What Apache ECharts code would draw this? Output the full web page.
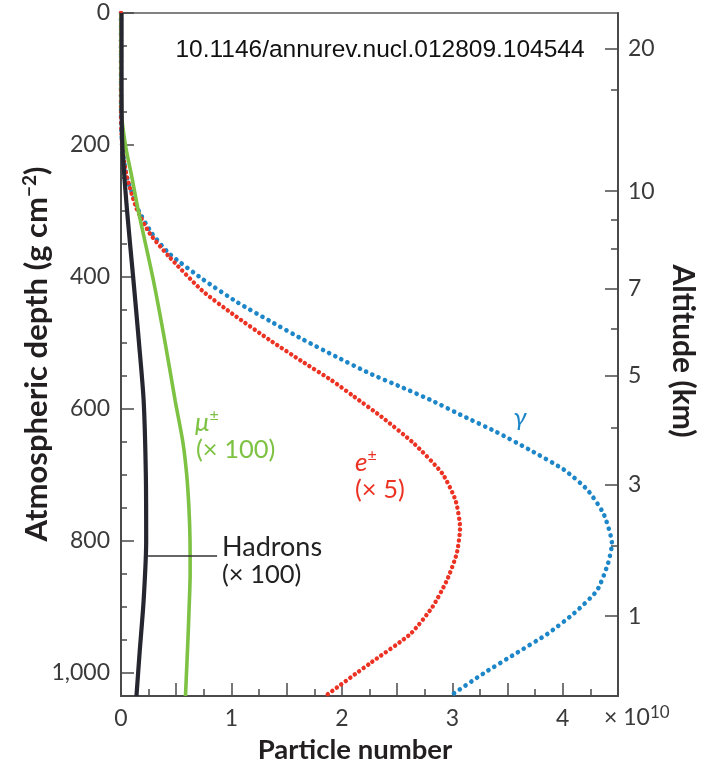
<!DOCTYPE html>
<html>
<head>
<meta charset="utf-8">
<script src="https://cdn.jsdelivr.net/npm/echarts@6/dist/echarts.min.js"></script>
<style>
html, body { margin: 0; padding: 0; background: #fff; }
#chart { width: 710px; height: 765px; }
</style>
</head>
<body>
<div id="chart"></div>
<script>
var myChart = echarts.init(document.getElementById('chart'));

// atmospheric depth (g cm^-2) vs particle number (x 1e10)
var gammaDepth = [0, 150, 200, 246, 296, 334, 365, 404, 438, 467, 495, 521, 546, 567, 587, 611, 635, 662, 692, 722, 759, 804, 834, 875, 910, 941, 971, 1001, 1035];
var gammaNum   = [0, 0, 0.01, 0.05, 0.15, 0.28, 0.44, 0.745, 1.05, 1.35, 1.65, 1.95, 2.25, 2.54, 2.81, 3.10, 3.40, 3.70, 4.01, 4.22, 4.37, 4.445, 4.41, 4.31, 4.10, 3.86, 3.57, 3.28, 2.98];

var elecDepth = [0, 150, 200, 246, 296, 334, 370, 420, 456, 496, 527, 557, 580, 612, 652, 698, 739, 780, 819, 860, 900, 941, 986, 1035];
var elecNum   = [0, 0, 0.01, 0.05, 0.14, 0.26, 0.44, 0.73, 1.01, 1.35, 1.63, 1.91, 2.10, 2.36, 2.65, 2.91, 3.03, 3.07, 3.04, 2.95, 2.82, 2.62, 2.25, 1.85];

var muonDepth = [0, 150, 200, 250, 300, 400, 500, 587, 650, 700, 750, 800, 850, 900, 950, 1000, 1035];
var muonNum   = [0, 0.005, 0.04, 0.10, 0.157, 0.287, 0.40, 0.49, 0.56, 0.595, 0.615, 0.625, 0.626, 0.617, 0.606, 0.593, 0.584];

var hadronDepth = [0, 100, 200, 300, 400, 500, 587, 700, 800, 890, 966, 1035];
var hadronNum   = [0.005, 0.005, 0.012, 0.055, 0.11, 0.163, 0.205, 0.225, 0.228, 0.205, 0.17, 0.14];

// right axis: altitude (km) and the depth where each tick sits
var altLabels = [20, 10, 7, 5, 3, 1];
var altDepth = [54, 270, 418, 549, 715, 914];
var altMinorDepth = [117, 314, 358, 478, 629, 808];

var depthMax = 1035;
var numMax = 4.5;

function pairs(xs, ys) {
    return xs.map(function (v, i) { return [v, ys[i]]; });
}

var axisColor = '#4a4a4a';
var labelColor = '#3a3a3a';
var titleColor = '#231f20';
var font = 'Lato';

option = {
    animation: false,
    textStyle: { fontFamily: font },
    grid: {
        left: 121, right: 92, top: 13, bottom: 69,
        show: true, borderColor: '#5a5a5a', borderWidth: 1.5
    },
    xAxis: [{
        type: 'value',
        min: 0,
        max: numMax,
        interval: 0.5,
        axisLine: { onZero: false, lineStyle: { color: axisColor, width: 2 } },
        axisTick: { inside: true, length: 13, lineStyle: { color: axisColor, width: 1.5 } },
        minorTick: { show: true, splitNumber: 2, length: 7, lineStyle: { color: axisColor, width: 1.5 } },
        splitLine: { show: false },
        axisLabel: {
            margin: 11,
            color: labelColor,
            fontSize: 23,
            fontFamily: font,
            formatter: function (v) { return v % 1 === 0 ? String(v) : ''; }
        }
    }],
    yAxis: [{
        type: 'value',
        inverse: true,
        min: 0,
        max: depthMax,
        interval: 200,
        position: 'left',
        axisLine: { onZero: false, lineStyle: { color: axisColor, width: 2 } },
        axisTick: { inside: true, length: 13, lineStyle: { color: axisColor, width: 1.5 } },
        minorTick: { show: true, splitNumber: 4, length: 6, lineStyle: { color: axisColor, width: 1.5 } },
        splitLine: { show: false },
        axisLabel: {
            margin: 11,
            color: labelColor,
            fontSize: 23,
            fontFamily: font,
            formatter: function (v) {
                if (v % 200 !== 0) return '';
                return v.toLocaleString('en-US');
            }
        }
    }, {
        type: 'value',
        inverse: true,
        min: 0,
        max: depthMax,
        position: 'right',
        axisLine: { show: true, onZero: false, lineStyle: { color: axisColor, width: 2 } },
        axisTick: { show: true, inside: true, length: 13, customValues: altDepth, lineStyle: { color: axisColor, width: 1.5 } },
        splitLine: { show: false },
        axisLabel: {
            margin: 10,
            color: labelColor,
            fontSize: 23,
            fontFamily: font,
            customValues: altDepth,
            formatter: function (v) {
                var i = altDepth.indexOf(v);
                return i >= 0 ? String(altLabels[i]) : '';
            }
        }
    }, {
        type: 'value',
        inverse: true,
        min: 0,
        max: depthMax,
        position: 'right',
        axisLine: { show: false, onZero: false },
        axisTick: { show: true, inside: true, length: 7, customValues: altMinorDepth, lineStyle: { color: axisColor, width: 1.5 } },
        splitLine: { show: false },
        axisLabel: { show: false }
    }],
    series: [{
        name: 'gamma',
        type: 'line',
        smooth: 0.2,
        showSymbol: false,
        lineStyle: { color: '#1c86c8', width: 4.6, type: [0.1, 6.8], cap: 'round' },
        data: pairs(gammaNum, gammaDepth)
    }, {
        name: 'e',
        type: 'line',
        smooth: 0.2,
        showSymbol: false,
        lineStyle: { color: '#eb3223', width: 4.4, type: [0.1, 5.4], cap: 'round' },
        data: pairs(elecNum, elecDepth)
    }, {
        name: 'mu',
        type: 'line',
        smooth: 0.25,
        showSymbol: false,
        lineStyle: { color: '#7dc243', width: 3.6 },
        data: pairs(muonNum, muonDepth)
    }, {
        name: 'hadrons',
        type: 'line',
        smooth: 0.25,
        showSymbol: false,
        lineStyle: { color: '#262631', width: 4.2 },
        data: pairs(hadronNum, hadronDepth),
        markLine: {
            silent: true,
            symbol: ['none', 'none'],
            label: { show: false },
            lineStyle: { color: '#333', width: 1.5, type: 'solid' },
            data: [[{ coord: [0.245, 822] }, { coord: [0.87, 822] }]]
        }
    }],
    graphic: [
        { type: 'text', x: 380, y: 50, style: { text: '10.1146/annurev.nucl.012809.104544', fill: '#111', fontFamily: 'Liberation Sans', fontSize: 24.5, align: 'center', verticalAlign: 'middle' } },
        { type: 'text', x: 520, y: 418, style: { text: 'γ', fill: '#1c86c8', fontFamily: font, fontStyle: 'italic', fontSize: 26, align: 'center', verticalAlign: 'middle' } },
        { type: 'text', x: 195, y: 423, style: {
            text: '{m|μ}{s|±}', fill: '#7dc243', align: 'left', verticalAlign: 'middle',
            rich: { m: { fontFamily: font, fontStyle: 'italic', fontSize: 26, fill: '#7dc243' }, s: { fontFamily: font, fontSize: 16, fill: '#7dc243', verticalAlign: 'top', lineHeight: 30 } }
        } },
        { type: 'text', x: 196, y: 450, style: { text: '(× 100)', fill: '#7dc243', fontFamily: font, fontSize: 25.5, align: 'left', verticalAlign: 'middle' } },
        { type: 'text', x: 355, y: 463, style: {
            text: '{m|e}{s|±}', fill: '#eb3223', align: 'left', verticalAlign: 'middle',
            rich: { m: { fontFamily: font, fontStyle: 'italic', fontSize: 26, fill: '#eb3223' }, s: { fontFamily: font, fontSize: 16, fill: '#eb3223', verticalAlign: 'top', lineHeight: 30 } }
        } },
        { type: 'text', x: 355, y: 490, style: { text: '(× 5)', fill: '#eb3223', fontFamily: font, fontSize: 25.5, align: 'left', verticalAlign: 'middle' } },
        { type: 'text', x: 222, y: 547, style: { text: 'Hadrons', fill: '#222', fontFamily: font, fontSize: 27, align: 'left', verticalAlign: 'middle' } },
        { type: 'text', x: 222, y: 575, style: { text: '(× 100)', fill: '#222', fontFamily: font, fontSize: 25.5, align: 'left', verticalAlign: 'middle' } },
        { type: 'text', x: 604, y: 718, style: {
            text: '{m|× 10}{s|10}', fill: labelColor, align: 'left', verticalAlign: 'middle',
            rich: { m: { fontFamily: font, fontSize: 23, fill: labelColor }, s: { fontFamily: font, fontSize: 17, fill: labelColor, verticalAlign: 'top', lineHeight: 28 } }
        } },
        { type: 'text', x: 355, y: 750, style: { text: 'Particle number', fill: titleColor, fontFamily: font, fontWeight: 'bold', fontSize: 27.5, align: 'center', verticalAlign: 'middle' } },
        { type: 'text', x: 37, y: 354, rotation: Math.PI / 2, style: {
            text: '{m|Atmospheric depth (g cm}{s|−2}{m|)}', fill: titleColor, align: 'center', verticalAlign: 'middle',
            rich: { m: { fontFamily: font, fontWeight: 'bold', fontSize: 31, fill: titleColor }, s: { fontFamily: font, fontWeight: 'bold', fontSize: 19, fill: titleColor, verticalAlign: 'top', lineHeight: 34 } }
        } },
        { type: 'text', x: 683, y: 351, rotation: -Math.PI / 2, style: { text: 'Altitude (km)', fill: titleColor, fontFamily: font, fontWeight: 'bold', fontSize: 30, align: 'center', verticalAlign: 'middle' } }
    ]
};

myChart.setOption(option);
</script>
</body>
</html>
